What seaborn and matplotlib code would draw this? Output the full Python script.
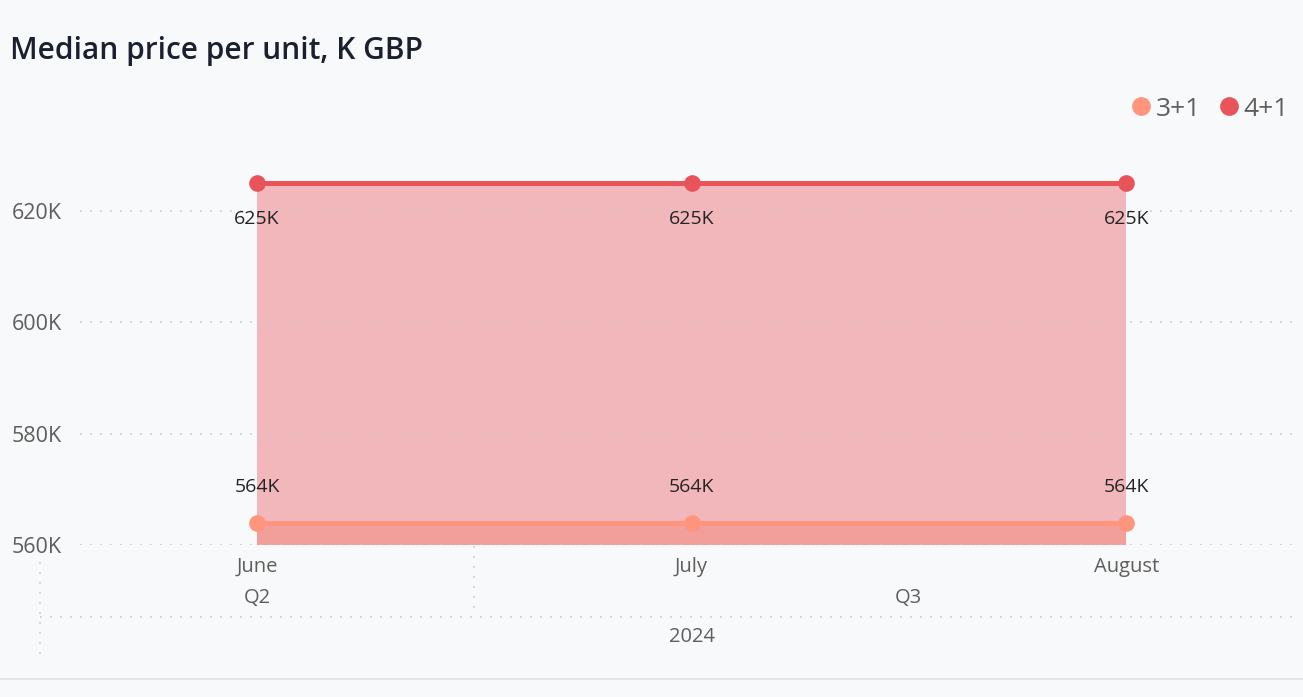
import matplotlib
matplotlib.use("Agg")
import matplotlib.pyplot as plt
from matplotlib.lines import Line2D
import pandas as pd
import seaborn as sns

months = ["June", "July", "August"]
quarters = ["Q2", "Q3"]
quarter_pos = [0, 1.5]
year_label = "2024"
series_names = ["3+1", "4+1"]
values_3p1 = [564, 564, 564]
values_4p1 = [625, 625, 625]
yticks = [560, 580, 600, 620]

COLORS = {"3+1": "#fe957c", "4+1": "#e8545a"}
BG = "#f8f9fb"
GRID = "#c8c8c8"
TEXT = "#605e5c"

sns.set_theme(style="white")
plt.rcParams["font.family"] = ["Open Sans", "DejaVu Sans"]

df = pd.DataFrame({
    "month": months * 2,
    "x": list(range(len(months))) * 2,
    "value": values_3p1 + values_4p1,
    "type": [series_names[0]] * 3 + [series_names[1]] * 3,
})

W, H = 1303, 697
fig = plt.figure(figsize=(W / 100, H / 100), dpi=100, facecolor=BG)
ax = fig.add_axes([80 / W, 1 - 545 / H, (1293 - 80) / W, (545 - 130) / H])
ax.set_facecolor(BG)

ax.set_xlim(-0.4074, 2.384)
ax.set_ylim(560, 634.55)

# area fills: 3+1 first, 4+1 drawn over it
for name in series_names:
    sub = df[df["type"] == name]
    ax.fill_between(sub["x"], 560, sub["value"], color=COLORS[name],
                    alpha=0.4, linewidth=0, zorder=1)

# dotted gridlines on top of the fills
for v in yticks:
    ax.axhline(v, color=GRID, linestyle=(0, (1, 5)), linewidth=1.2, zorder=2)

sns.lineplot(data=df, x="x", y="value", hue="type", palette=COLORS,
             marker="o", markersize=12, markeredgewidth=0, linewidth=3.6,
             legend=False, ax=ax, zorder=3)

# data labels
for _, row in df.iterrows():
    dy = 26 if row["type"] == "3+1" else -26
    ax.annotate(f"{row['value']}K", (row["x"], row["value"]),
                xytext=(0, dy), textcoords="offset points",
                ha="center", va="center", fontsize=14, color="#252423", zorder=4)

ax.set_yticks(yticks)
ax.set_yticklabels([f"{v}K" for v in yticks], fontsize=15.5, color=TEXT)
ax.tick_params(axis="y", length=0, pad=13)
ax.set_xticks([])
for s in ax.spines.values():
    s.set_visible(False)
ax.set_xlabel("")
ax.set_ylabel("")


def ypx(p):
    return (545 - p) / 415


tr = ax.get_xaxis_transform()
for i, m in enumerate(months):
    ax.text(i, ypx(567), m, transform=tr, ha="center", va="center",
            fontsize=14.5, color=TEXT)
for q, pos in zip(quarters, quarter_pos):
    ax.text(pos, ypx(598), q, transform=tr, ha="center", va="center",
            fontsize=14.5, color=TEXT)
ax.text(1, ypx(637), year_label, transform=tr, ha="center", va="center",
        fontsize=14.5, color=TEXT)

sep = dict(transform=tr, color=GRID, linestyle=(0, (1, 5)), linewidth=1.2,
           clip_on=False)
ax.plot([-0.5, -0.5], [ypx(562), ypx(660)], **sep)
ax.plot([0.5, 0.5], [ypx(546), ypx(612)], **sep)
ax.plot([-0.5, 2.384], [ypx(617), ypx(617)], **sep)

# bottom rule
fig.add_artist(Line2D([0, 1], [1 - 679 / H, 1 - 679 / H], color="#e3e4e6",
                      linewidth=1.5))

fig.text(10 / W, 1 - 51 / H, "Median price per unit, K GBP", ha="left",
         va="center", fontsize=21.5, fontweight="semibold", color="#1b2030")

handles = [Line2D([], [], marker="o", linestyle="", markersize=13.5,
                  markeredgewidth=0, color=COLORS[n]) for n in series_names]
fig.legend(handles, series_names, loc="center right",
           bbox_to_anchor=(1 - 1 / W, 1 - 109 / H), ncol=2, frameon=False,
           handletextpad=0.05, columnspacing=0.55, handlelength=1.0,
           fontsize=19, labelcolor=TEXT, borderpad=0)

fig.savefig("out.png", dpi=100, facecolor=BG)
